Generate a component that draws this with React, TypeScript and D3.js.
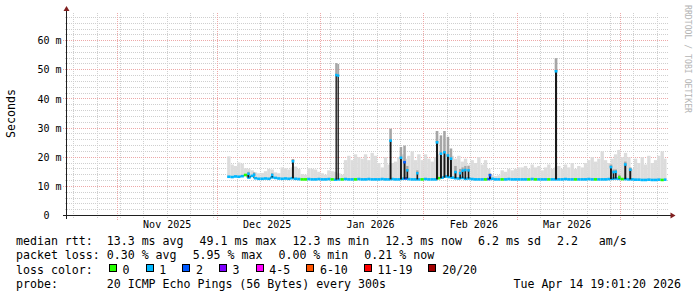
import React from "react";
import * as d3 from "d3";

// ---------- data ----------
const startTime = new Date(2025, 9, 16, 19, 1, 20);
const endTime = new Date(2026, 3, 14, 19, 1, 20);
const dataStart = new Date(2025, 11, 4);

const yTickValues = [0, 10, 20, 30, 40, 50, 60];
const yTickLabels = ["0", "10 m", "20 m", "30 m", "40 m", "50 m", "60 m"];
const monthLabels = ["Nov 2025", "Dec 2025", "Jan 2026", "Feb 2026", "Mar 2026"];
const monthLabelDates = ["2025-11-16T00:00", "2025-12-16T00:00", "2026-01-16T00:00", "2026-02-16T00:00", "2026-03-16T00:00"];

// daily median rtt (ms), from Dec 4 2025
const medianDaily = [
  13.3, 13.2, 13.4, 13.3, 13.5, 13.9, 13.0, 13.6, 12.8, 12.6,
  12.6, 12.7, 12.6, 13.1, 12.9, 12.7, 12.6, 12.7, 12.6, 12.8,
  12.6, 12.5, 12.4, 12.4, 12.5, 12.4, 12.4, 12.5, 12.4, 12.4,
  12.5, 12.4, 12.3, 12.4, 12.4, 12.5, 12.4, 12.4, 12.4, 12.5,
  12.4, 12.4, 12.5, 12.4, 12.4, 12.4, 12.5, 12.4, 12.4, 12.5,
  12.4, 12.4, 12.6, 12.7, 12.5, 12.4, 12.4, 12.4, 12.4, 12.5,
  12.4, 12.4, 12.4, 12.8, 13.0, 13.4, 13.2, 13.0, 12.8, 12.7,
  12.9, 12.6, 12.7, 12.5, 12.4, 12.4, 12.4, 12.4, 12.5, 12.6,
  12.4, 12.4, 12.4, 12.4, 12.5, 12.4, 12.4, 12.4, 12.4, 12.4,
  12.4, 12.5, 12.4, 12.4, 12.4, 12.4, 12.4, 12.4, 12.4, 12.4,
  12.4, 12.5, 12.4, 12.4, 12.4, 12.4, 12.4, 12.4, 12.5, 12.4,
  12.4, 12.4, 12.4, 12.4, 12.5, 12.6, 12.7, 12.6, 12.5, 12.5,
  12.4, 12.4, 12.3, 12.3, 12.2, 12.2, 12.3, 12.2, 12.2, 12.3,
  12.2, 12.3,
];

// daily smoke top (ms)
const smokeTopDaily = [
  20.3, 17.5, 17.0, 18.2, 17.8, 16.2, 16.0, 15.5, 14.8, 14.5,
  14.6, 15.2, 16.0, 15.8, 14.8, 14.5, 16.5, 16.2, 15.8, 16.5,
  16.8, 16.0, 14.2, 14.0, 16.2, 16.0, 15.8, 15.0, 14.5, 14.0,
  15.5, 15.2, 15.0, 14.5, 14.0, 19.0, 20.5, 19.0, 21.0, 20.0,
  19.5, 21.0, 19.0, 21.5, 20.5, 18.0, 16.5, 20.0, 17.5, 18.0,
  18.5, 20.0, 21.0, 19.5, 20.5, 22.0, 19.0, 21.0, 19.0, 21.0,
  19.5, 18.5, 20.0, 21.0, 20.5, 21.0, 20.0, 20.5, 19.5, 20.5,
  18.5, 19.5, 17.5, 19.0, 18.0, 20.0, 17.5, 19.0, 16.0, 14.0,
  13.5, 13.8, 15.5, 15.0, 16.0, 15.5, 16.0, 16.5, 16.5, 17.0,
  16.0, 17.5, 16.5, 17.0, 15.5, 16.5, 17.5, 16.0, 16.5, 17.0,
  16.0, 17.5, 16.5, 18.0, 16.0, 17.0, 16.5, 18.0, 19.0, 20.0,
  18.5, 19.5, 22.0, 19.0, 18.0, 19.5, 21.0, 22.5, 20.0, 21.5,
  20.0, 16.0, 19.5, 18.0, 20.0, 17.5, 20.5, 18.0, 19.0, 20.5,
  22.0, 19.5,
];

// daily loss class (index into lossColors)
const lossDaily = [
  1, 1, 1, 1, 1, 0, 1, 1, 1, 1,
  1, 1, 1, 1, 1, 1, 1, 1, 1, 1,
  1, 1, 0, 0, 1, 1, 1, 1, 1, 1,
  1, 0, 1, 1, 0, 1, 1, 1, 0, 1,
  1, 1, 1, 1, 1, 1, 1, 1, 1, 1,
  1, 1, 1, 2, 1, 1, 1, 1, 0, 1,
  1, 1, 1, 0, 1, 1, 1, 1, 1, 1,
  1, 1, 1, 1, 1, 1, 1, 0, 2, 1,
  1, 1, 0, 1, 1, 1, 1, 1, 1, 1,
  0, 1, 0, 1, 1, 1, 0, 1, 1, 1,
  1, 1, 1, 1, 0, 1, 1, 1, 1, 1,
  0, 1, 1, 1, 1, 1, 1, 1, 0, 1,
  1, 1, 1, 1, 1, 1, 1, 1, 1, 1,
  0, 1,
];

// short spikes of the median
const spikeTimes = [
  "2025-12-10T03:30", "2025-12-11T20:00", "2025-12-17T06:00", "2025-12-23T10:30",
  "2026-01-05T11:45", "2026-01-06T02:10", "2026-01-21T17:20", "2026-01-24T20:10",
  "2026-01-25T22:00", "2026-01-26T19:00", "2026-01-29T19:00", "2026-02-04T15:20",
  "2026-02-05T20:10", "2026-02-06T21:20", "2026-02-07T22:30", "2026-02-08T20:10",
  "2026-02-10T04:30", "2026-02-11T15:10", "2026-02-12T09:10", "2026-02-13T04:30",
  "2026-02-14T03:40", "2026-02-20T13:00", "2026-03-12T08:10", "2026-03-28T20:10",
  "2026-03-29T15:40", "2026-03-30T08:10", "2026-03-31T09:20", "2026-04-02T03:10",
  "2026-04-03T15:10",
];
const spikeHours = [
  12, 12, 12, 14,
  10, 10, 14, 14,
  14, 12, 12, 15,
  14, 14, 14, 14,
  14, 12, 12, 12,
  12, 14, 15, 14,
  12, 12, 12, 14,
  14,
];
const spikeMedians = [
  14.3, 14.0, 13.9, 18.6,
  48.2, 48.0, 25.7, 19.8,
  18.3, 15.5, 14.5, 25.1,
  21.2, 21.7, 20.6, 19.5,
  14.9, 14.5, 15.4, 15.6,
  15.5, 13.8, 49.5, 16.6,
  14.9, 15.0, 13.1, 17.5,
  15.7,
];
const spikeTops = [
  15.0, 14.8, 14.5, 19.4,
  52.3, 52.0, 29.8, 23.5,
  24.0, 17.0, 15.5, 29.0,
  27.5, 29.0, 27.0, 23.0,
  17.0, 16.0, 16.5, 17.0,
  17.0, 14.5, 54.0, 17.5,
  15.8, 15.8, 14.0, 18.5,
  16.5,
];
const spikeLoss = [
  1, 1, 1, 1,
  1, 1, 1, 1,
  2, 1, 1, 1,
  1, 1, 1, 1,
  1, 1, 1, 1,
  1, 2, 1, 1,
  1, 1, 0, 1,
  1,
];

const lossColors = ["#26ff00", "#00b8ff", "#0059ff", "#7e00ff", "#ff00fe", "#ff5500", "#ff0000", "#a10000"];
const lossLabels = ["0", "1", "2", "3", "4-5", "6-10", "11-19", "20/20"];

const legendRow1 = ["median rtt:  13.3 ms avg", "49.1 ms max", "12.3 ms min", "12.3 ms now", "6.2 ms sd", "2.2   am/s"];
const legendRow2 = ["packet loss: 0.30 % avg", "5.95 % max", "0.00 % min", "0.21 % now"];
const legendRow3Title = "loss color:";
const legendProbe = "probe:       20 ICMP Echo Pings (56 Bytes) every 300s";
const legendStamp = "Tue Apr 14 19:01:20 2026";
const yAxisTitle = "Seconds";
const watermark = "RRDTOOL / TOBI OETIKER";

// ---------- layout ----------
const W = 697;
const H = 297;
const X0 = 66.5;
const X1 = 666.5;
const Y0 = 215.5;
const YT = 13;
const MONO = "'DejaVu Sans Mono', monospace";
const LF = 11.6;
const CW = LF * 0.6021;
const GAP = 16;
const DAY = 86400000;

function chain(items: string[], start: number) {
  const xs: number[] = [];
  let x = start;
  items.forEach((s) => {
    xs.push(x);
    x += s.length * CW + GAP;
  });
  return xs;
}

export default function App() {
  const x = d3.scaleTime().domain([startTime, endTime]).range([X0, X1]);
  const y = d3.scaleLinear().domain([0, 69.5]).range([Y0, YT]);
  const px = (v: number) => Math.round(v - 0.5) + 0.5;

  const minorY = d3.range(2, 69, 2).filter((v) => v % 10 !== 0);
  const majorY = [10, 20, 30, 40, 50, 60];
  const weeks = d3.timeSunday.range(startTime, endTime);
  const months = d3.timeMonth.range(startTime, endTime);

  const days = medianDaily.map((m, i) => {
    const t0 = d3.timeDay.offset(dataStart, i);
    let t1 = d3.timeDay.offset(dataStart, i + 1);
    if (t1 > endTime) t1 = endTime;
    return { t0, t1, m, top: smokeTopDaily[i], loss: lossDaily[i] };
  });

  const spikes = spikeTimes.map((s, i) => {
    const t = new Date(s);
    const di = Math.floor((+t - +dataStart) / DAY);
    const base = medianDaily[Math.max(0, Math.min(medianDaily.length - 1, di))];
    return { t, t1: new Date(+t + spikeHours[i] * 3600000), m: spikeMedians[i], top: spikeTops[i], loss: spikeLoss[i], base };
  });

  const r1 = chain(legendRow1, 16);
  const r2 = chain(legendRow2, 16);
  const r3Start = 16 + legendRow3Title.length * CW + GAP;
  const boxW = 13.7;
  const boxXs: number[] = [];
  {
    let bx = r3Start;
    lossLabels.forEach((l) => {
      boxXs.push(bx);
      bx += boxW + l.length * CW + GAP;
    });
  }

  const gridGray = "#cfcfcf";
  const gridRed = "#eda8a8";

  return (
    <svg width={W} height={H} style={{ position: "absolute", left: 0, top: 0, background: "#fff" }}>
      <rect x={0} y={0} width={W} height={H} fill="#fff" />

      {/* grid */}
      <g shapeRendering="crispEdges">
        {minorY.map((v) => (
          <line key={"gy" + v} x1={X0 - 2} x2={X1 + 1} y1={px(y(v))} y2={px(y(v))} stroke={gridGray} strokeDasharray="1,1" />
        ))}
        {weeks.map((w, i) => (
          <line key={"gx" + i} x1={px(x(w))} x2={px(x(w))} y1={YT} y2={Y0 + 2} stroke={gridGray} strokeDasharray="1,1" />
        ))}
        {majorY.map((v) => (
          <line key={"my" + v} x1={X0 - 4} x2={X1 + 1} y1={px(y(v))} y2={px(y(v))} stroke={gridRed} strokeDasharray="1,1" />
        ))}
        {months.map((m, i) => (
          <line key={"mx" + i} x1={px(x(m))} x2={px(x(m))} y1={YT} y2={Y0 + 4} stroke={gridRed} strokeDasharray="1,1" />
        ))}
      </g>

      {/* smoke */}
      {days.map((d, i) => (
        <rect key={"s" + i} x={x(d.t0)} width={Math.max(0, x(d.t1) - x(d.t0))} y={y(d.top)} height={y(d.m - 0.3) - y(d.top)} fill="#dcdcdc" />
      ))}
      {spikes.map((s, i) => (
        <rect key={"ss" + i} x={x(s.t) - 0.3} width={x(s.t1) - x(s.t) + 0.6} y={y(s.top)} height={y(s.m) - y(s.top)} fill="#a6a6a6" />
      ))}

      {/* median step line */}
      {days.slice(1).map((d, i) => {
        const prev = days[i];
        return Math.abs(prev.m - d.m) > 0.15 ? (
          <line key={"v" + i} x1={x(d.t0)} x2={x(d.t0)} y1={y(prev.m)} y2={y(d.m)} stroke="#222" strokeWidth={1} />
        ) : null;
      })}
      {days.map((d, i) => (
        <line key={"m" + i} x1={x(d.t0)} x2={x(d.t1)} y1={y(d.m)} y2={y(d.m)} stroke={lossColors[d.loss]} strokeWidth={2.6} />
      ))}
      {spikes.map((s, i) => (
        <g key={"sp" + i}>
          <rect x={x(s.t)} width={x(s.t1) - x(s.t)} y={y(s.m)} height={y(s.base) - y(s.m)} fill="#1a1a1a" />
          <line x1={x(s.t) - 0.4} x2={x(s.t1) + 0.4} y1={y(s.m)} y2={y(s.m)} stroke={lossColors[s.loss]} strokeWidth={2.6} />
        </g>
      ))}

      {/* axes */}
      <g shapeRendering="crispEdges">
        <line x1={X0} x2={X0} y1={Y0 + 3} y2={10} stroke="#1f1f1f" strokeWidth={1} />
        <line x1={X0 - 4} x2={X1 + 5} y1={Y0} y2={Y0} stroke="#1f1f1f" strokeWidth={1} />
      </g>
      <path d={`M${X0 - 3},${11} L${X0 + 3},${11} L${X0},${6} Z`} fill="#801f1f" />
      <path d={`M${X1 + 4},${Y0 - 3} L${X1 + 4},${Y0 + 3} L${X1 + 9},${Y0} Z`} fill="#801f1f" />

      {/* y labels */}
      {yTickValues.map((v, i) => (
        <text key={"yl" + i} x={v === 0 ? 61.5 - 2 * 6.02 : 61.5} y={y(v) + 3.6} fontFamily={MONO} fontSize={10} textAnchor="end" fill="#000">
          {yTickLabels[i]}
        </text>
      ))}
      {/* x labels */}
      {monthLabels.map((l, i) => (
        <text key={"xl" + i} x={x(new Date(monthLabelDates[i]))} y={227.5} fontFamily={MONO} fontSize={10} textAnchor="middle" fill="#000">
          {l}
        </text>
      ))}

      <text transform="translate(10.5,113.5) rotate(-90)" fontFamily={MONO} fontSize={11.6} textAnchor="middle" dominantBaseline="central" fill="#000">
        {yAxisTitle}
      </text>
      <text transform="translate(687.5,59) rotate(90)" fontFamily={MONO} fontSize={8.6} textAnchor="middle" dominantBaseline="central" fill="#b4b4b4" textLength={108} lengthAdjust="spacingAndGlyphs">
        {watermark}
      </text>

      {/* legend */}
      <g fontFamily={MONO} fontSize={LF} fill="#000">
        {legendRow1.map((s, i) => (
          <text key={"r1" + i} x={r1[i]} y={245} xmlSpace="preserve" style={{ whiteSpace: "pre" }}>{s}</text>
        ))}
        {legendRow2.map((s, i) => (
          <text key={"r2" + i} x={r2[i]} y={259.3} xmlSpace="preserve" style={{ whiteSpace: "pre" }}>{s}</text>
        ))}
        <text x={16} y={273.6}>{legendRow3Title}</text>
        {lossLabels.map((l, i) => (
          <g key={"lc" + i}>
            <rect x={Math.round(boxXs[i]) + 0.5} y={264.5} width={7} height={7} fill={lossColors[i]} stroke="#000" strokeWidth={1} shapeRendering="crispEdges" />
            <text x={boxXs[i] + boxW} y={273.6}>{l}</text>
          </g>
        ))}
        <text x={16} y={288} xmlSpace="preserve" style={{ whiteSpace: "pre" }}>{legendProbe}</text>
        <text x={681} y={288} textAnchor="end">{legendStamp}</text>
      </g>
    </svg>
  );
}
